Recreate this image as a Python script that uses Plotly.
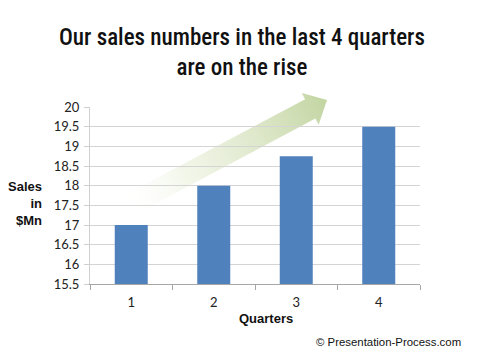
import base64
import math
import plotly.graph_objects as go

# ---- data ----
quarters = ["1", "2", "3", "4"]
sales = [17.0, 18.0, 18.75, 19.5]
y_ticks = [15.5, 16, 16.5, 17, 17.5, 18, 18.5, 19, 19.5, 20]
y_tick_labels = ["15.5", "16", "16.5", "17", "17.5", "18", "18.5", "19", "19.5", "20"]

title_text = "Our sales numbers in the last 4 quarters<br>are on the rise"
y_label = "Sales<br>in<br>$Mn"
x_label = "Quarters"
credit = "© Presentation-Process.com"

W, H = 480, 361
L, R, T, B = 90, 60, 107, 77
pw, ph = W - L - R, H - T - B


def px(xp):
    return (xp - L) / pw


def py(yp):
    return (H - B - yp) / ph


# ---- decorative gradient arrow (SVG image covering the whole figure) ----
tail = (122.0, 209.0)
tip = (327.0, 100.0)
dx, dy = tip[0] - tail[0], tip[1] - tail[1]
ln = math.hypot(dx, dy)
ux, uy = dx / ln, dy / ln
nx, ny = -uy, ux
head_len, head_w, shaft_w = 19.0, 18.0, 11.0
bx, by = tip[0] - ux * head_len, tip[1] - uy * head_len
pts = [
    (tail[0] - nx * shaft_w, tail[1] - ny * shaft_w),
    (bx - nx * shaft_w, by - ny * shaft_w),
    (bx - nx * head_w, by - ny * head_w),
    tip,
    (bx + nx * head_w, by + ny * head_w),
    (bx + nx * shaft_w, by + ny * shaft_w),
    (tail[0] + nx * shaft_w, tail[1] + ny * shaft_w),
]
poly = " ".join(f"{a:.1f},{b:.1f}" for a, b in pts)
svg = f'''<svg xmlns="http://www.w3.org/2000/svg" width="{W}" height="{H}" viewBox="0 0 {W} {H}" preserveAspectRatio="none">
<defs><linearGradient id="g" gradientUnits="userSpaceOnUse" x1="{tail[0]}" y1="{tail[1]}" x2="{tip[0]}" y2="{tip[1]}">
<stop offset="0" stop-color="#ffffff" stop-opacity="0"/>
<stop offset="0.3" stop-color="#eef3e2" stop-opacity="0.7"/>
<stop offset="1" stop-color="#c3d5a2" stop-opacity="1"/>
</linearGradient></defs>
<polygon points="{poly}" fill="url(#g)"/>
</svg>'''
src = "data:image/svg+xml;base64," + base64.b64encode(svg.encode()).decode()

fig = go.Figure()
fig.add_trace(go.Bar(x=quarters, y=sales, base=0, marker=dict(color="#4f81bd", line=dict(width=0)),
                     hoverinfo="skip"))

fig.update_layout(
    width=W, height=H,
    margin=dict(l=L, r=R, t=T, b=B),
    paper_bgcolor="white",
    plot_bgcolor="rgba(0,0,0,0)",
    showlegend=False,
    bargap=0.6,
    xaxis=dict(
        type="category", tickson="boundaries", ticks="outside", ticklen=5,
        tickcolor="#a6a6a6", showline=True, linecolor="#a6a6a6", linewidth=1,
        showgrid=False, tickfont=dict(family="Lato, Carlito, Arial", size=13, color="#222"),
        ticklabelstandoff=6,
    ),
    yaxis=dict(
        range=[15.5, 20], tickvals=y_ticks, ticktext=y_tick_labels, ticks="outside", ticklen=5,
        tickcolor="#d0d0d0", showline=True, linecolor="#d0d0d0", linewidth=1,
        showgrid=True, gridcolor="#d4d4d4", gridwidth=1, zeroline=False,
        tickfont=dict(family="Lato, Carlito, Arial", size=13, color="#222"),
        ticklabelstandoff=2,
    ),
    images=[dict(source=src, xref="paper", yref="paper", x=px(0), y=py(0),
                 sizex=W / pw, sizey=H / ph, xanchor="left", yanchor="top",
                 sizing="stretch", layer="below")],
    annotations=[
        dict(text=title_text, xref="paper", yref="paper", x=px(242), y=py(53),
             xanchor="center", yanchor="middle", showarrow=False,
             font=dict(family="Roboto Condensed, Liberation Sans Narrow, Lato", size=23,
                       weight=500, color="#111")),
        dict(text=y_label, xref="paper", yref="paper", x=px(44), y=py(203.5),
             xanchor="right", yanchor="middle", align="right", showarrow=False,
             font=dict(family="Liberation Sans, Arial", size=13, color="#111")),
        dict(text=f"<b>{x_label}</b>", xref="paper", yref="paper", x=px(265.5), y=py(318),
             xanchor="center", yanchor="middle", showarrow=False,
             font=dict(family="Liberation Sans, Arial", size=13, color="#111")),
        dict(text=credit, xref="paper", yref="paper", x=px(463), y=py(342),
             xanchor="right", yanchor="middle", showarrow=False,
             font=dict(family="Liberation Sans, Arial", size=11.4, color="#111")),
    ],
)
fig.layout.annotations[1].text = "<b>" + y_label.replace("<br>", "</b><br><b>") + "</b>"

fig.write_html("out.html", config={"displayModeBar": False},
               post_script="document.body.style.margin='0';")
